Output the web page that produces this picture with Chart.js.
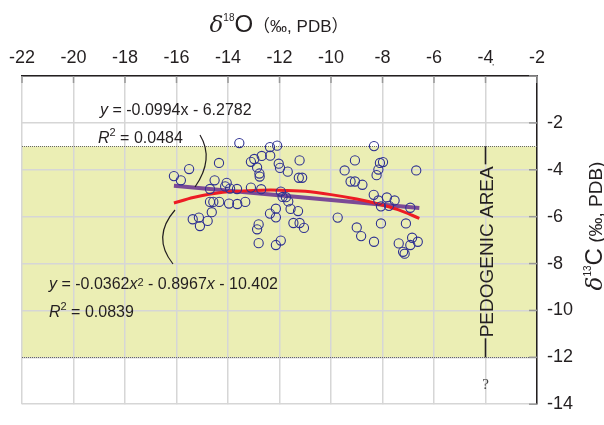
<!DOCTYPE html>
<html>
<head>
<meta charset="utf-8">
<script src="https://cdn.jsdelivr.net/npm/chart.js@4/dist/chart.umd.min.js"></script>
<style>
  html, body { margin: 0; padding: 0; background: #fff; }
</style>
</head>
<body>
<canvas id="chart" width="604" height="425"></canvas>
<script>
// δ18O / δ13C sample values
const d18O = [
  -13.56, -12.37, -12.09, -12.36, -12.69, -12.98, -13.11, -14.35, -12.03, -11.22,
  -15.51, -12.87, -11.98, -11.68, -12.78, -12.77, -11.25, -11.12, -16.10, -15.83,
  -14.52, -14.05, -14.11, -13.92, -13.65, -14.70, -13.11, -12.71, -11.95, -11.88,
  -11.75, -11.66, -14.70, -14.57, -14.34, -13.96, -13.64, -13.33, -14.63, -15.37,
  -15.13, -14.79, -15.09, -12.37, -12.14, -12.14, -11.57, -11.28, -12.81, -12.87,
  -11.46, -11.22, -11.05, -12.81, -12.14, -11.95,
  -8.33, -9.07, -8.10, -7.98, -9.47, -8.16, -8.23, -6.69, -9.24, -9.07,
  -8.78, -8.34, -8.16, -7.83, -7.53, -8.06, -7.75, -6.92, -9.74, -8.06,
  -7.09, -9.00, -8.83, -8.33, -7.37, -6.85, -6.92, -6.63, -7.20, -7.14
];
const d13C = [
  -2.86, -3.03, -2.97, -3.40, -3.41, -3.54, -3.66, -3.71, -3.74, -3.60,
  -3.97, -3.90, -3.92, -4.08, -4.16, -4.29, -4.34, -4.34, -4.27, -4.45,
  -4.45, -4.56, -4.71, -4.80, -4.82, -4.82, -4.76, -4.83, -4.93, -5.16,
  -5.17, -5.35, -5.37, -5.37, -5.37, -5.44, -5.46, -5.37, -5.81, -6.11,
  -6.04, -6.18, -6.40, -5.87, -5.66, -6.03, -5.67, -5.76, -6.33, -6.54,
  -6.27, -6.27, -6.48, -7.13, -7.21, -7.02,
  -2.99, -3.60, -3.71, -3.67, -4.03, -3.99, -4.23, -4.03, -4.50, -4.50,
  -4.64, -5.07, -5.31, -5.18, -5.31, -5.56, -5.54, -5.62, -6.04, -6.29,
  -6.29, -6.46, -6.83, -7.07, -7.14, -6.90, -7.21, -7.07, -7.50, -7.58
];

// fitted lines as drawn in the figure
const linX = [-16.1, -6.57];
const linY = [-4.68, -5.63];
const quadX = [-16.1, -15.35, -14.2, -13.0, -12.0, -11.0, -10.0, -9.0, -8.2, -7.4, -6.57];
const quadY = [-5.42, -5.18, -4.96, -4.88, -4.87, -4.92, -5.06, -5.25, -5.45, -5.70, -6.07];

// pedogenic band and axis ranges
const bandTop = -3;
const bandBottom = -12;
const pedogenicX = -4;
const xTicks = [-22, -2];
const yTicks = [-14, 0];

const toXY = (xs, ys) => xs.map((x, i) => ({ x: x, y: ys[i] }));

const INK = '#231f20';
const SANS = '"Liberation Sans", Arial, sans-serif';

// draw a run of text pieces: [text, font, dy]
function rich(ctx, x, y, parts, align) {
  let w = 0;
  parts.forEach(p => { ctx.font = p[1]; w += ctx.measureText(p[0]).width; });
  let cx = align === 'center' ? x - w / 2 : x;
  ctx.textAlign = 'left';
  ctx.textBaseline = 'alphabetic';
  parts.forEach(p => {
    ctx.font = p[1];
    ctx.fillText(p[0], cx, y + (p[2] || 0));
    cx += ctx.measureText(p[0]).width;
  });
}

const overlay = {
  id: 'overlay',
  beforeDraw(chart) {
    const { ctx, chartArea: a, scales: { y } } = chart;
    const t = y.getPixelForValue(bandTop), b = y.getPixelForValue(bandBottom);
    ctx.save();
    ctx.fillStyle = '#ebeeb4';
    ctx.fillRect(a.left, t, a.right - a.left, b - t);
    ctx.restore();
  },
  beforeDatasetsDraw(chart) {
    const { ctx, chartArea: a, scales: { x, y } } = chart;
    ctx.save();
    // dotted edges of the band
    ctx.strokeStyle = '#666';
    ctx.lineWidth = 1;
    ctx.setLineDash([1, 1]);
    [bandTop, bandBottom].forEach(v => {
      const py = Math.round(y.getPixelForValue(v)) + 0.5;
      ctx.beginPath(); ctx.moveTo(a.left, py); ctx.lineTo(a.right, py); ctx.stroke();
    });
    ctx.setLineDash([]);
    // short inward ticks
    ctx.strokeStyle = '#999';
    ctx.lineWidth = 1.5;
    x.ticks.forEach(t => {
      const px = x.getPixelForValue(t.value);
      ctx.beginPath(); ctx.moveTo(px, a.top); ctx.lineTo(px, a.top + 7); ctx.stroke();
    });
    y.ticks.forEach(t => {
      const py = y.getPixelForValue(t.value);
      ctx.beginPath(); ctx.moveTo(a.right - 8, py); ctx.lineTo(a.right, py); ctx.stroke();
    });
    ctx.restore();
  },
  afterDatasetsDraw(chart) {
    const { ctx, scales: { x, y } } = chart;
    ctx.save();
    ctx.fillStyle = INK;
    ctx.strokeStyle = INK;

    // regression labels
    const f = '16px ' + SANS, fi = 'italic 16px ' + SANS, fs = '11px ' + SANS;
    rich(ctx, 100, 115, [['y', fi], [' = -0.0994x - 6.2782', f]]);
    rich(ctx, 98, 143, [['R', fi], ['2', fs, -7], [' = 0.0484', f]]);
    rich(ctx, 49, 289, [['y', fi], [' = -0.0362', f], ['x', fi], ['2', fs, -3], [' - 0.8967', f], ['x', fi], [' - 10.402', f]]);
    rich(ctx, 49, 317, [['R', fi], ['2', fs, -7], [' = 0.0839', f]]);

    // brackets pointing at the two fits
    ctx.lineWidth = 1.2;
    ctx.beginPath(); ctx.moveTo(200, 135); ctx.quadraticCurveTo(214.5, 159, 195, 187); ctx.stroke();
    ctx.beginPath(); ctx.moveTo(175, 210); ctx.quadraticCurveTo(151.4, 237, 173, 264); ctx.stroke();

    // pedogenic area marker
    const px = x.getPixelForValue(pedogenicX);
    const t = y.getPixelForValue(bandTop), b = y.getPixelForValue(bandBottom);
    ctx.lineWidth = 1.6;
    ctx.beginPath(); ctx.moveTo(px, t); ctx.lineTo(px, t + 18); ctx.stroke();
    ctx.beginPath(); ctx.moveTo(px, b - 19); ctx.lineTo(px, b); ctx.stroke();
    ctx.save();
    ctx.translate(px + 7, (t + b) / 2 + 0);
    ctx.rotate(-Math.PI / 2);
    ctx.font = '19px ' + SANS;
    ctx.textAlign = 'center';
    ctx.textBaseline = 'alphabetic';
    ctx.fillText('PEDOGENIC AREA', 0, 0);
    ctx.restore();
    ctx.fillStyle = '#444';
    ctx.font = '15px "Liberation Serif", serif';
    ctx.textAlign = 'center';
    ctx.fillText('?', px, 389);
    // stray dot beside the -4 label
    ctx.fillStyle = '#888';
    ctx.fillRect(px + 7, 64, 1.5, 1.5);
    ctx.restore();
  },
  afterDraw(chart) {
    const { ctx } = chart;
    ctx.save();
    ctx.fillStyle = INK;
    // top axis title
    rich(ctx, 279, 32, [
      ['δ', 'italic 23px "DejaVu Serif", serif'],
      ['18', '10px ' + SANS, -11],
      ['O', '24px ' + SANS],
      ['（‰, PDB）', '17px ' + SANS + ', "Noto Sans CJK SC"']
    ], 'center');
    // right axis title
    ctx.translate(602, 226);
    ctx.rotate(-Math.PI / 2);
    rich(ctx, 0, 0, [
      ['δ', 'italic 23px "DejaVu Serif", serif'],
      ['13', '10px ' + SANS, -11],
      ['C', '24px ' + SANS],
      [' (‰, PDB)', '19px ' + SANS]
    ], 'center');
    ctx.restore();
  }
};

new Chart(document.getElementById('chart'), {
  type: 'scatter',
  data: {
    datasets: [
      {
        label: 'samples',
        data: toXY(d18O, d13C),
        showLine: false,
        pointRadius: 4.6,
        pointBorderWidth: 1.1,
        borderColor: '#2e3192',
        backgroundColor: 'rgba(0,0,0,0)'
      },
      {
        label: 'quadratic',
        data: toXY(quadX, quadY),
        showLine: true,
        borderColor: '#ed1c24',
        borderWidth: 3,
        pointRadius: 0,
        tension: 0.3
      },
      {
        label: 'linear',
        data: toXY(linX, linY),
        showLine: true,
        borderColor: '#7b4a96',
        borderWidth: 4,
        pointRadius: 0
      }
    ]
  },
  options: {
    responsive: false,
    animation: false,
    events: [],
    layout: { padding: { left: 22, top: 0, right: 0, bottom: 9 } },
    plugins: { legend: { display: false }, tooltip: { enabled: false } },
    scales: {
      x: {
        type: 'linear',
        position: 'top',
        min: xTicks[0],
        max: xTicks[1],
        ticks: { stepSize: 2, color: INK, padding: 7, maxRotation: 0, autoSkip: false,
                 font: { family: 'Liberation Sans', size: 18 } },
        grid: { color: '#d6d6d6', lineWidth: 1.5, drawTicks: false },
        border: { color: INK, width: 1.5 },
        afterFit(s) { s.height = 76; }
      },
      y: {
        type: 'linear',
        position: 'right',
        min: yTicks[0],
        max: yTicks[1],
        ticks: { stepSize: 2, color: INK, padding: 10, autoSkip: false,
                 callback: v => (v === 0 ? '' : v),
                 font: { family: 'Liberation Sans', size: 18 } },
        grid: { color: '#d6d6d6', lineWidth: 1.5, drawTicks: false },
        border: { color: INK, width: 1.5 },
        afterFit(s) { s.width = 67; }
      }
    }
  },
  plugins: [overlay]
});
</script>
</body>
</html>
